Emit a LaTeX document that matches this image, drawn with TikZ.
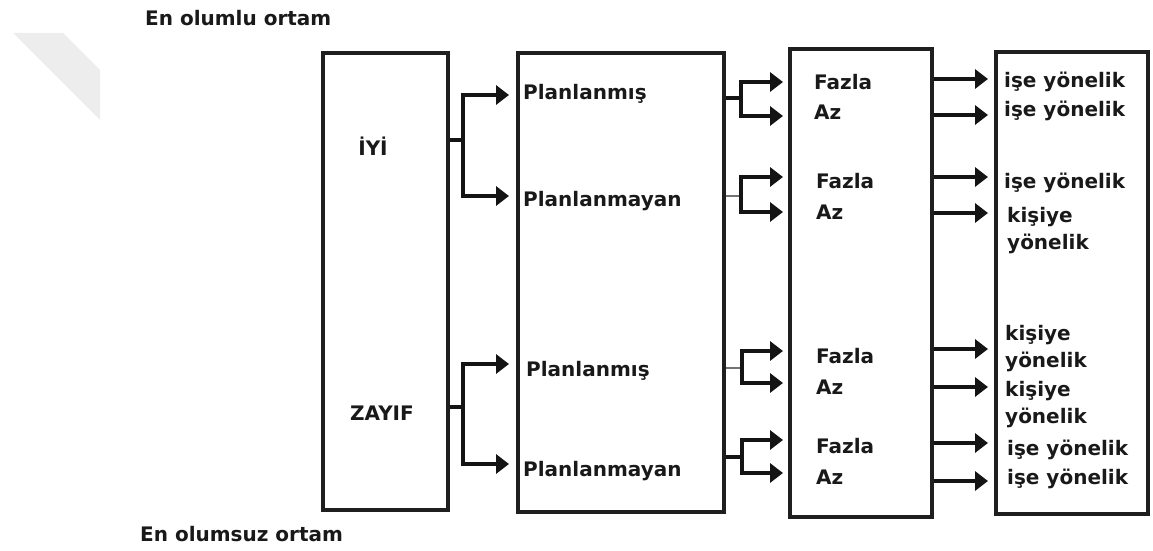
\documentclass[tikz,border=0pt]{standalone}
\usepackage{fontspec}
\setmainfont{DejaVu Sans}
\usetikzlibrary{arrows.meta}
\tikzset{
  box/.style={draw=black!88, line width=3.5pt, minimum width=#1, inner sep=0pt},
  lbl/.style={anchor=base west, inner sep=0pt, font=\bfseries\fontsize{20}{24}\selectfont, text=black!90},
  clbl/.style={anchor=base, inner sep=0pt, font=\bfseries\fontsize{20}{24}\selectfont, text=black!90},
  conn/.style={draw=black!92, line width=3.5pt},
  thin/.style={draw=black!55, line width=1.2pt},
  arr/.style={conn, -{Triangle[length=13pt,width=19pt]}},
}
\begin{document}
\begin{tikzpicture}[x=1pt,y=-1pt]
\useasboundingbox (0,0) rectangle (1153,551);
% faint page artefact
\fill[black!7] (13,33) -- (63,33) -- (100,70) -- (100,120) -- cycle;

% boxes
\node[box=125pt, minimum height=457pt] (b1) at (385.5,281.5) {};
\node[box=206pt, minimum height=459pt] (b2) at (621,282.5) {};
\node[box=142pt, minimum height=468pt] (b3) at (861,283) {};
\node[box=152pt, minimum height=462pt] (b4) at (1072,283) {};

% captions
\node[lbl] (top) at (145,26) {En olumlu ortam};
\node[lbl] (bot) at (140,541) {En olumsuz ortam};
\node[clbl] (iyi) at (373,155) {İYİ};
\node[clbl] (zay) at (382,420) {ZAYIF};

% column 2
\node[lbl] (p1) at (523,99) {Planlanmış};
\node[lbl] (p2) at (523,206) {Planlanmayan};
\node[lbl] (p3) at (526,376) {Planlanmış};
\node[lbl] (p4) at (523,476) {Planlanmayan};

% column 3
\node[lbl] (f1) at (814,89) {Fazla};
\node[lbl] (a1) at (814,119) {Az};
\node[lbl] (f2) at (816,188) {Fazla};
\node[lbl] (a2) at (816,219) {Az};
\node[lbl] (f3) at (816,363) {Fazla};
\node[lbl] (a3) at (816,394) {Az};
\node[lbl] (f4) at (816,453) {Fazla};
\node[lbl] (a4) at (816,484) {Az};

% column 4
\node[lbl] (r1) at (1004,87) {işe yönelik};
\node[lbl] (r2) at (1004,116) {işe yönelik};
\node[lbl] (r3) at (1004,188) {işe yönelik};
\node[lbl] (r4) at (1007,222) {kişiye};
\node[lbl] (r4b) at (1007,249) {yönelik};
\node[lbl] (r5) at (1005,340) {kişiye};
\node[lbl] (r5b) at (1005,367) {yönelik};
\node[lbl] (r6) at (1005,396) {kişiye};
\node[lbl] (r6b) at (1005,423) {yönelik};
\node[lbl] (r7) at (1007,455) {işe yönelik};
\node[lbl] (r8) at (1007,484) {işe yönelik};

% column 1 -> column 2
\coordinate (s1) at (463,140);
\coordinate (t1) at (509,95);
\coordinate (t2) at (509,196);
\draw[conn] (b1.east |- s1) -- (s1);
\draw[arr] (s1) |- (t1);
\draw[arr] (s1) |- (t2);
\coordinate (s2) at (463,407);
\coordinate (t3) at (509,364);
\coordinate (t4) at (509,464);
\draw[conn] (b1.east |- s2) -- (s2);
\draw[arr] (s2) |- (t3);
\draw[arr] (s2) |- (t4);

% column 2 -> column 3
\coordinate (u1) at (741,98);
\coordinate (v1) at (783,82);
\coordinate (v2) at (783,116);
\draw[conn] (b2.east |- u1) -- (u1);
\draw[arr] (u1) |- (v1);
\draw[arr] (u1) |- (v2);
\coordinate (u2) at (741,196);
\coordinate (v3) at (783,177);
\coordinate (v4) at (783,212);
\draw[thin] (b2.east |- u2) -- (u2);
\draw[arr] (u2) |- (v3);
\draw[arr] (u2) |- (v4);
\coordinate (u3) at (742,368);
\coordinate (v5) at (783,351);
\coordinate (v6) at (783,383);
\draw[thin] (b2.east |- u3) -- (u3);
\draw[arr] (u3) |- (v5);
\draw[arr] (u3) |- (v6);
\coordinate (u4) at (742,457);
\coordinate (v7) at (783,440);
\coordinate (v8) at (783,473);
\draw[conn] (b2.east |- u4) -- (u4);
\draw[arr] (u4) |- (v7);
\draw[arr] (u4) |- (v8);

% column 3 -> column 4
\foreach \n/\y in {1/79,2/115,3/177,4/213,5/349,6/387,7/443,8/481}{
  \coordinate (w\n) at (988,\y);
  \draw[arr] (b3.east |- w\n) -- (w\n);
}
\end{tikzpicture}
\end{document}
